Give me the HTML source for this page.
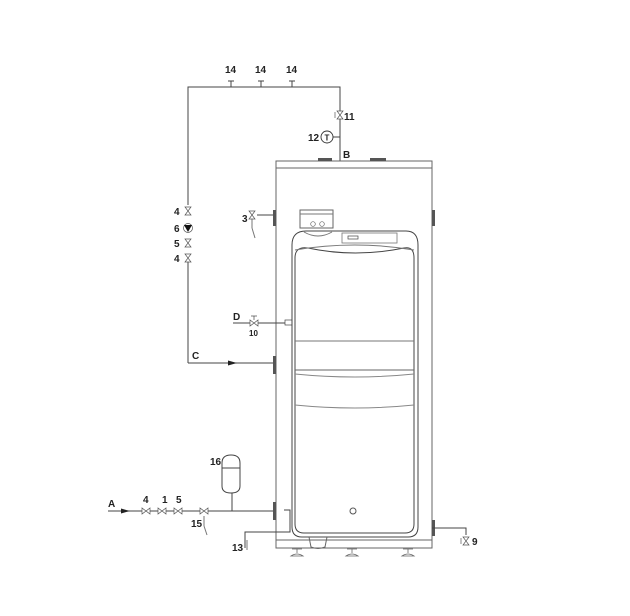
<!DOCTYPE html>
<html><head><meta charset="utf-8"><style>
html,body{margin:0;padding:0;background:#fff;}
svg{display:block}
text{font-family:"Liberation Sans",Arial,sans-serif;font-size:10px;font-weight:bold;fill:#222}
</style></head><body>
<svg width="630" height="616" viewBox="0 0 630 616" xmlns="http://www.w3.org/2000/svg">
<defs>
<g id="vv"><path d="M-3,-4 L3,-4 L-3,4 L3,4 Z" fill="#fff" stroke="#555" stroke-width="0.7"/></g>
<g id="vh"><path d="M-4,-3 L-4,3 L4,-3 L4,3 Z" fill="#fff" stroke="#555" stroke-width="0.7"/></g>
</defs>
<g fill="none" stroke="#444" stroke-width="1">
<polyline points="188,205 188,87 340,87 340,161"/>
<line x1="231" y1="81" x2="231" y2="87"/><line x1="228" y1="81" x2="234" y2="81"/>
<line x1="261" y1="81" x2="261" y2="87"/><line x1="258" y1="81" x2="264" y2="81"/>
<line x1="292" y1="81" x2="292" y2="87"/><line x1="289" y1="81" x2="295" y2="81"/>
<line x1="188" y1="262" x2="188" y2="363"/>
<polyline points="188,363 276,363"/>
<line x1="333" y1="137" x2="340" y2="137"/>
<rect x="276" y="161" width="156" height="387" stroke="#666"/>
<line x1="276" y1="168" x2="432" y2="168" stroke="#666"/>
<line x1="276" y1="540" x2="432" y2="540" stroke="#666"/>
<rect x="318" y="158" width="14" height="3" fill="#555" stroke="none"/>
<rect x="370" y="158" width="16" height="3" fill="#555" stroke="none"/>
<rect x="273" y="210" width="3" height="16" fill="#555" stroke="none"/>
<rect x="432" y="210" width="3" height="16" fill="#555" stroke="none"/>
<rect x="273" y="356" width="3" height="18" fill="#555" stroke="none"/>
<rect x="273" y="502" width="3" height="18" fill="#555" stroke="none"/>
<rect x="432" y="520" width="3" height="16" fill="#555" stroke="none"/>
<path d="M292,527 L292,245 Q292,231 306,231 L406,231 Q418,231 418,245 L418,527 Q418,537 408,537 L302,537 Q292,537 292,527 Z"/>
<path d="M295,524 L295,258 Q295,246 308,248 Q355,258 404,248 Q414,246 414,258 L414,524 Q414,533 405,533 L304,533 Q295,533 295,524 Z"/>
<path d="M295,250 Q355,240 414,250" stroke="#777"/>
<rect x="300" y="210" width="33" height="18" stroke="#666"/>
<line x1="300" y1="214" x2="333" y2="214" stroke="#777"/>
<path d="M304,232 Q318,240 332,232" stroke="#777"/>
<circle cx="313" cy="224" r="2.3" stroke="#666" stroke-width="0.7"/>
<circle cx="322" cy="224" r="2.3" stroke="#666" stroke-width="0.7"/>
<rect x="342" y="233" width="55" height="10" stroke="#777" stroke-width="0.8"/>
<rect x="348" y="236" width="10" height="3" stroke-width="0.7"/>
<line x1="295" y1="341" x2="414" y2="341" stroke="#777"/>
<line x1="295" y1="370" x2="414" y2="370" stroke="#666"/>
<path d="M295,374 Q355,380 414,374" stroke="#888"/>
<path d="M295,405 Q355,411 414,405" stroke="#888"/>
<circle cx="353" cy="511" r="3" stroke="#555"/>
<path d="M309,537 L311,547 Q318,550 325,547 L327,537" stroke="#666"/>
<g stroke="#666" stroke-width="0.8">
<path d="M292,549 L302,549 M297,549 L297,553 M291,556 Q297,552 303,556 Z"/>
<path d="M347,549 L357,549 M352,549 L352,553 M346,556 Q352,552 358,556 Z"/>
<path d="M403,549 L413,549 M408,549 L408,553 M402,556 Q408,552 414,556 Z"/>
</g>
<line x1="257" y1="215" x2="273" y2="215"/>
<line x1="252" y1="219" x2="252" y2="228" stroke="#777"/>
<line x1="252" y1="228" x2="255" y2="238" stroke="#777"/>
<line x1="233" y1="323" x2="285" y2="323"/>
<rect x="285" y="320" width="7" height="5" stroke-width="0.7"/>
<line x1="254" y1="316" x2="254" y2="320" stroke-width="0.7"/><line x1="251" y1="316" x2="257" y2="316" stroke-width="0.7"/>
<line x1="108" y1="511" x2="273" y2="511"/>
<line x1="232" y1="493" x2="232" y2="511"/>
<path d="M222,463 Q222,455 231,455 Q240,455 240,463 L240,486 Q240,493 231,493 Q222,493 222,486 Z"/>
<line x1="222" y1="468" x2="240" y2="468"/>
<line x1="204" y1="516" x2="204" y2="526" stroke="#777"/>
<line x1="204" y1="526" x2="207" y2="535" stroke="#777"/>
<polyline points="284,510 290,510 290,532 245,532 245,548"/>
<line x1="247" y1="540" x2="247" y2="550" stroke="#777"/>
<polyline points="432,528 466,528 466,535"/>
</g>
<path d="M237,363 L228,360.5 L228,365.5 Z" fill="#222"/>
<path d="M130,511 L121,508.5 L121,513.5 Z" fill="#222"/>
<use href="#vv" x="188" y="211"/>
<use href="#vv" x="188" y="243"/>
<use href="#vv" x="188" y="258"/>
<circle cx="188" cy="228" r="4.5" fill="#fff" stroke="#555" stroke-width="0.7"/>
<path d="M184,225 L192,225 L188,232 Z" fill="#111"/>
<use href="#vv" x="340" y="115"/>
<line x1="335" y1="112" x2="335" y2="118" stroke="#555" stroke-width="0.7"/>
<circle cx="327" cy="137" r="6" fill="#fff" stroke="#333" stroke-width="0.9"/>
<text x="327" y="140.5" text-anchor="middle" style="font-size:8px">T</text>
<use href="#vv" x="252" y="215"/>
<use href="#vh" x="254" y="323"/>
<use href="#vh" x="146" y="511"/>
<use href="#vh" x="162" y="511"/>
<use href="#vh" x="178" y="511"/>
<use href="#vh" x="204" y="511"/>
<use href="#vv" x="466" y="541"/>
<line x1="461" y1="538" x2="461" y2="544" stroke="#555" stroke-width="0.7"/>
<text x="225" y="73">14</text><text x="255" y="73">14</text><text x="286" y="73">14</text>
<text x="344" y="120">11</text>
<text x="308" y="141">12</text>
<text x="343" y="158">B</text>
<text x="174" y="215">4</text><text x="174" y="232">6</text><text x="174" y="247">5</text><text x="174" y="262">4</text>
<text x="242" y="222">3</text>
<text x="233" y="320">D</text>
<text x="249" y="336" style="font-size:8px">10</text>
<text x="192" y="359">C</text>
<text x="210" y="465">16</text>
<text x="108" y="507">A</text>
<text x="143" y="503">4</text><text x="162" y="503">1</text><text x="176" y="503">5</text>
<text x="191" y="527">15</text>
<text x="232" y="551">13</text>
<text x="472" y="545">9</text>
</svg>
</body></html>
